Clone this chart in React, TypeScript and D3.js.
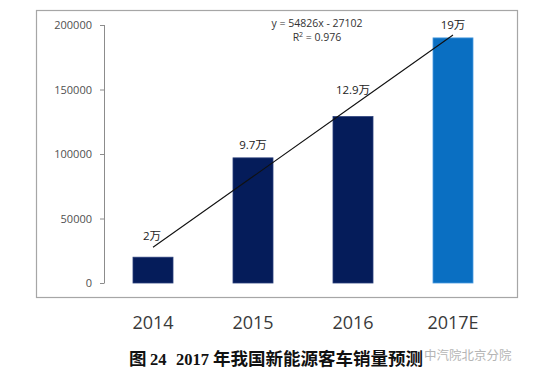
import React from "react";
import * as d3 from "d3";

const categories = ["2014", "2015", "2016", "2017E"];
const sales = [20000, 97000, 129000, 190000];
const valueLabels = ["2万", "9.7万", "12.9万", "19万"];
const yTicks = [0, 50000, 100000, 150000, 200000];
const trendSlope = 54826;
const trendIntercept = -27102;
const equationText = "y = 54826x - 27102";
const r2Value = "0.976";
const captionFig = "图";
const captionNo = "24";
const captionYear = "2017";
const captionText = "年我国新能源客车销量预测";
const watermark = "中汽院北京分院";

const W = 554;
const H = 376;
const labelGaps = [17, 9, 23, 9];
const barColors = ["#051c5a", "#051c5a", "#051c5a", "#0a6fc2"];

export default function App() {
  const x = d3.scaleBand<string>().domain(categories).range([103, 503]).paddingInner(0.6).paddingOuter(0.3);
  const y = d3.scaleLinear().domain([0, 200000]).range([283, 25]);
  const bw = x.bandwidth();
  const cx = (c: string) => (x(c) as number) + bw / 2;

  const trendPts: [number, number][] = categories.map((c, i) => [cx(c), y(trendSlope * (i + 1) + trendIntercept)]);
  const line = d3.line();

  return (
    <div style={{ position: "absolute", left: 0, top: 0 }}>
      <svg width={W} height={H} style={{ display: "block", background: "#fff" }}>
        <rect x={36.5} y={10.5} width={481} height={287} fill="#fff" stroke="#a6a6a6" strokeWidth={1.2} />
        {/* y axis */}
        <line x1={104.5} x2={104.5} y1={y(200000)} y2={y(0)} stroke="#8c8c8c" strokeWidth={1} />
        {yTicks.map((t) => (
          <g key={t}>
            <line x1={100} x2={104.5} y1={y(t) + 0.5} y2={y(t) + 0.5} stroke="#8c8c8c" />
            <text x={92} y={y(t) + 4} textAnchor="end" fontFamily="Open Sans" fontSize={11} fill="#505050">
              {t}
            </text>
          </g>
        ))}
        {/* bars */}
        {categories.map((c, i) => (
          <rect
            key={c}
            x={x(c) as number}
            y={y(sales[i])}
            width={bw}
            height={y(0) - y(sales[i])}
            fill={barColors[i]}
            stroke={i === 3 ? "#4a9be0" : "#2a3f7a"}
            strokeWidth={0.8}
          />
        ))}
        {/* trend line */}
        <path d={line(trendPts) || ""} stroke="#111" strokeWidth={1.1} fill="none" />
        {/* value labels */}
        {categories.map((c, i) => (
          <text
            key={c}
            x={cx(c) - (i === 0 ? 1 : 0)}
            y={y(sales[i]) - labelGaps[i]}
            textAnchor="middle"
            fontFamily="Open Sans, Noto Sans CJK SC"
            fontSize={11.5}
            fill="#222"
          >
            {valueLabels[i]}
          </text>
        ))}
        {/* equation */}
        <text x={317} y={27} textAnchor="middle" fontFamily="Open Sans" fontSize={10.5} fill="#333">
          {equationText}
        </text>
        <text x={317} y={41} textAnchor="middle" fontFamily="Open Sans" fontSize={10.5} fill="#333">
          R<tspan dy={-4} fontSize={7}>2</tspan>
          <tspan dy={4}>{" = " + r2Value}</tspan>
        </text>
        {/* x category labels */}
        {categories.map((c) => (
          <text key={c} x={cx(c)} y={329} textAnchor="middle" fontFamily="Open Sans" fontSize={18} fill="#3a3a3a">
            {c}
          </text>
        ))}
        {/* caption */}
        <text y={365} fontWeight="bold" fill="#111">
          <tspan x={129} fontFamily="Noto Sans CJK SC" fontSize={17.5}>{captionFig}</tspan>
          <tspan x={150} fontFamily="Liberation Serif" fontSize={16.5}>{captionNo}</tspan>
          <tspan x={176} fontFamily="Liberation Serif" fontSize={16.5}>{captionYear}</tspan>
          <tspan x={213} fontFamily="Noto Sans CJK SC" fontSize={17.5}>{captionText}</tspan>
        </text>
        <text x={424} y={360} fontFamily="Noto Sans CJK SC" fontSize={12.5} fill="#b5b5b5">
          {watermark}
        </text>
      </svg>
    </div>
  );
}
